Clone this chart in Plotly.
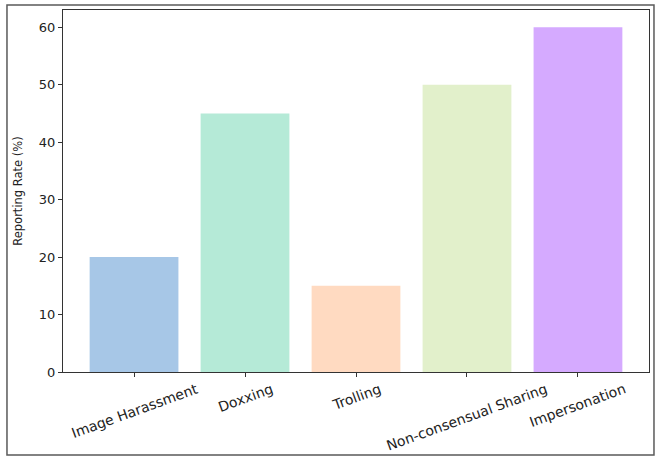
import plotly.graph_objects as go

categories = ["Image Harassment", "Doxxing", "Trolling", "Non-consensual Sharing", "Impersonation"]
rates = [20, 45, 15, 50, 60]
colors = ["#A7C7E7", "#B5EAD7", "#FFDAC1", "#E2F0CB", "#D5AAFF"]
y_ticks = [0, 10, 20, 30, 40, 50, 60]

FONT = "DejaVu Sans"
AXC = "#333333"

fig = go.Figure()
fig.add_trace(go.Bar(x=categories, y=rates, marker=dict(color=colors, line=dict(width=0)),
                     width=0.8, showlegend=False))

for c in categories:
    fig.add_annotation(x=c, y=0, xref="x", yref="paper", text=c, showarrow=False,
                       textangle=-20, xanchor="center", yanchor="top", yshift=-6,
                       font=dict(family=FONT, size=14, color="#222222"))

fig.add_shape(type="rect", xref="paper", yref="paper",
              x0=-0.0956, x1=1.0085, y0=-0.2293, y1=1.0138,
              line=dict(color="#5a5a5a", width=1.5), fillcolor="rgba(0,0,0,0)", layer="below")

fig.update_layout(
    width=658, height=462,
    margin=dict(l=63, r=9, t=10, b=90),
    paper_bgcolor="white", plot_bgcolor="white",
    font=dict(family=FONT, color="#222222"),
    bargap=0.2,
)
fig.update_xaxes(type="category", range=[-0.64, 4.64], showticklabels=False,
                 ticks="outside", ticklen=4, tickwidth=1, tickcolor=AXC,
                 showline=True, mirror=True, linecolor=AXC, linewidth=1.3,
                 showgrid=False, zeroline=False)
fig.update_yaxes(range=[0, 63], tickvals=y_ticks, ticks="outside", ticklen=4, tickwidth=1,
                 tickcolor=AXC, tickfont=dict(size=13, family=FONT, color="#222222"),
                 showline=True, mirror=True, linecolor=AXC, linewidth=1.3,
                 showgrid=False, zeroline=False,
                 title=dict(text="Reporting Rate (%)", font=dict(size=11.5, family=FONT, color="#222222"),
                            standoff=13))

fig.write_html("out.html", config={"displayModeBar": False},
               post_script="document.body.style.margin='0';")
